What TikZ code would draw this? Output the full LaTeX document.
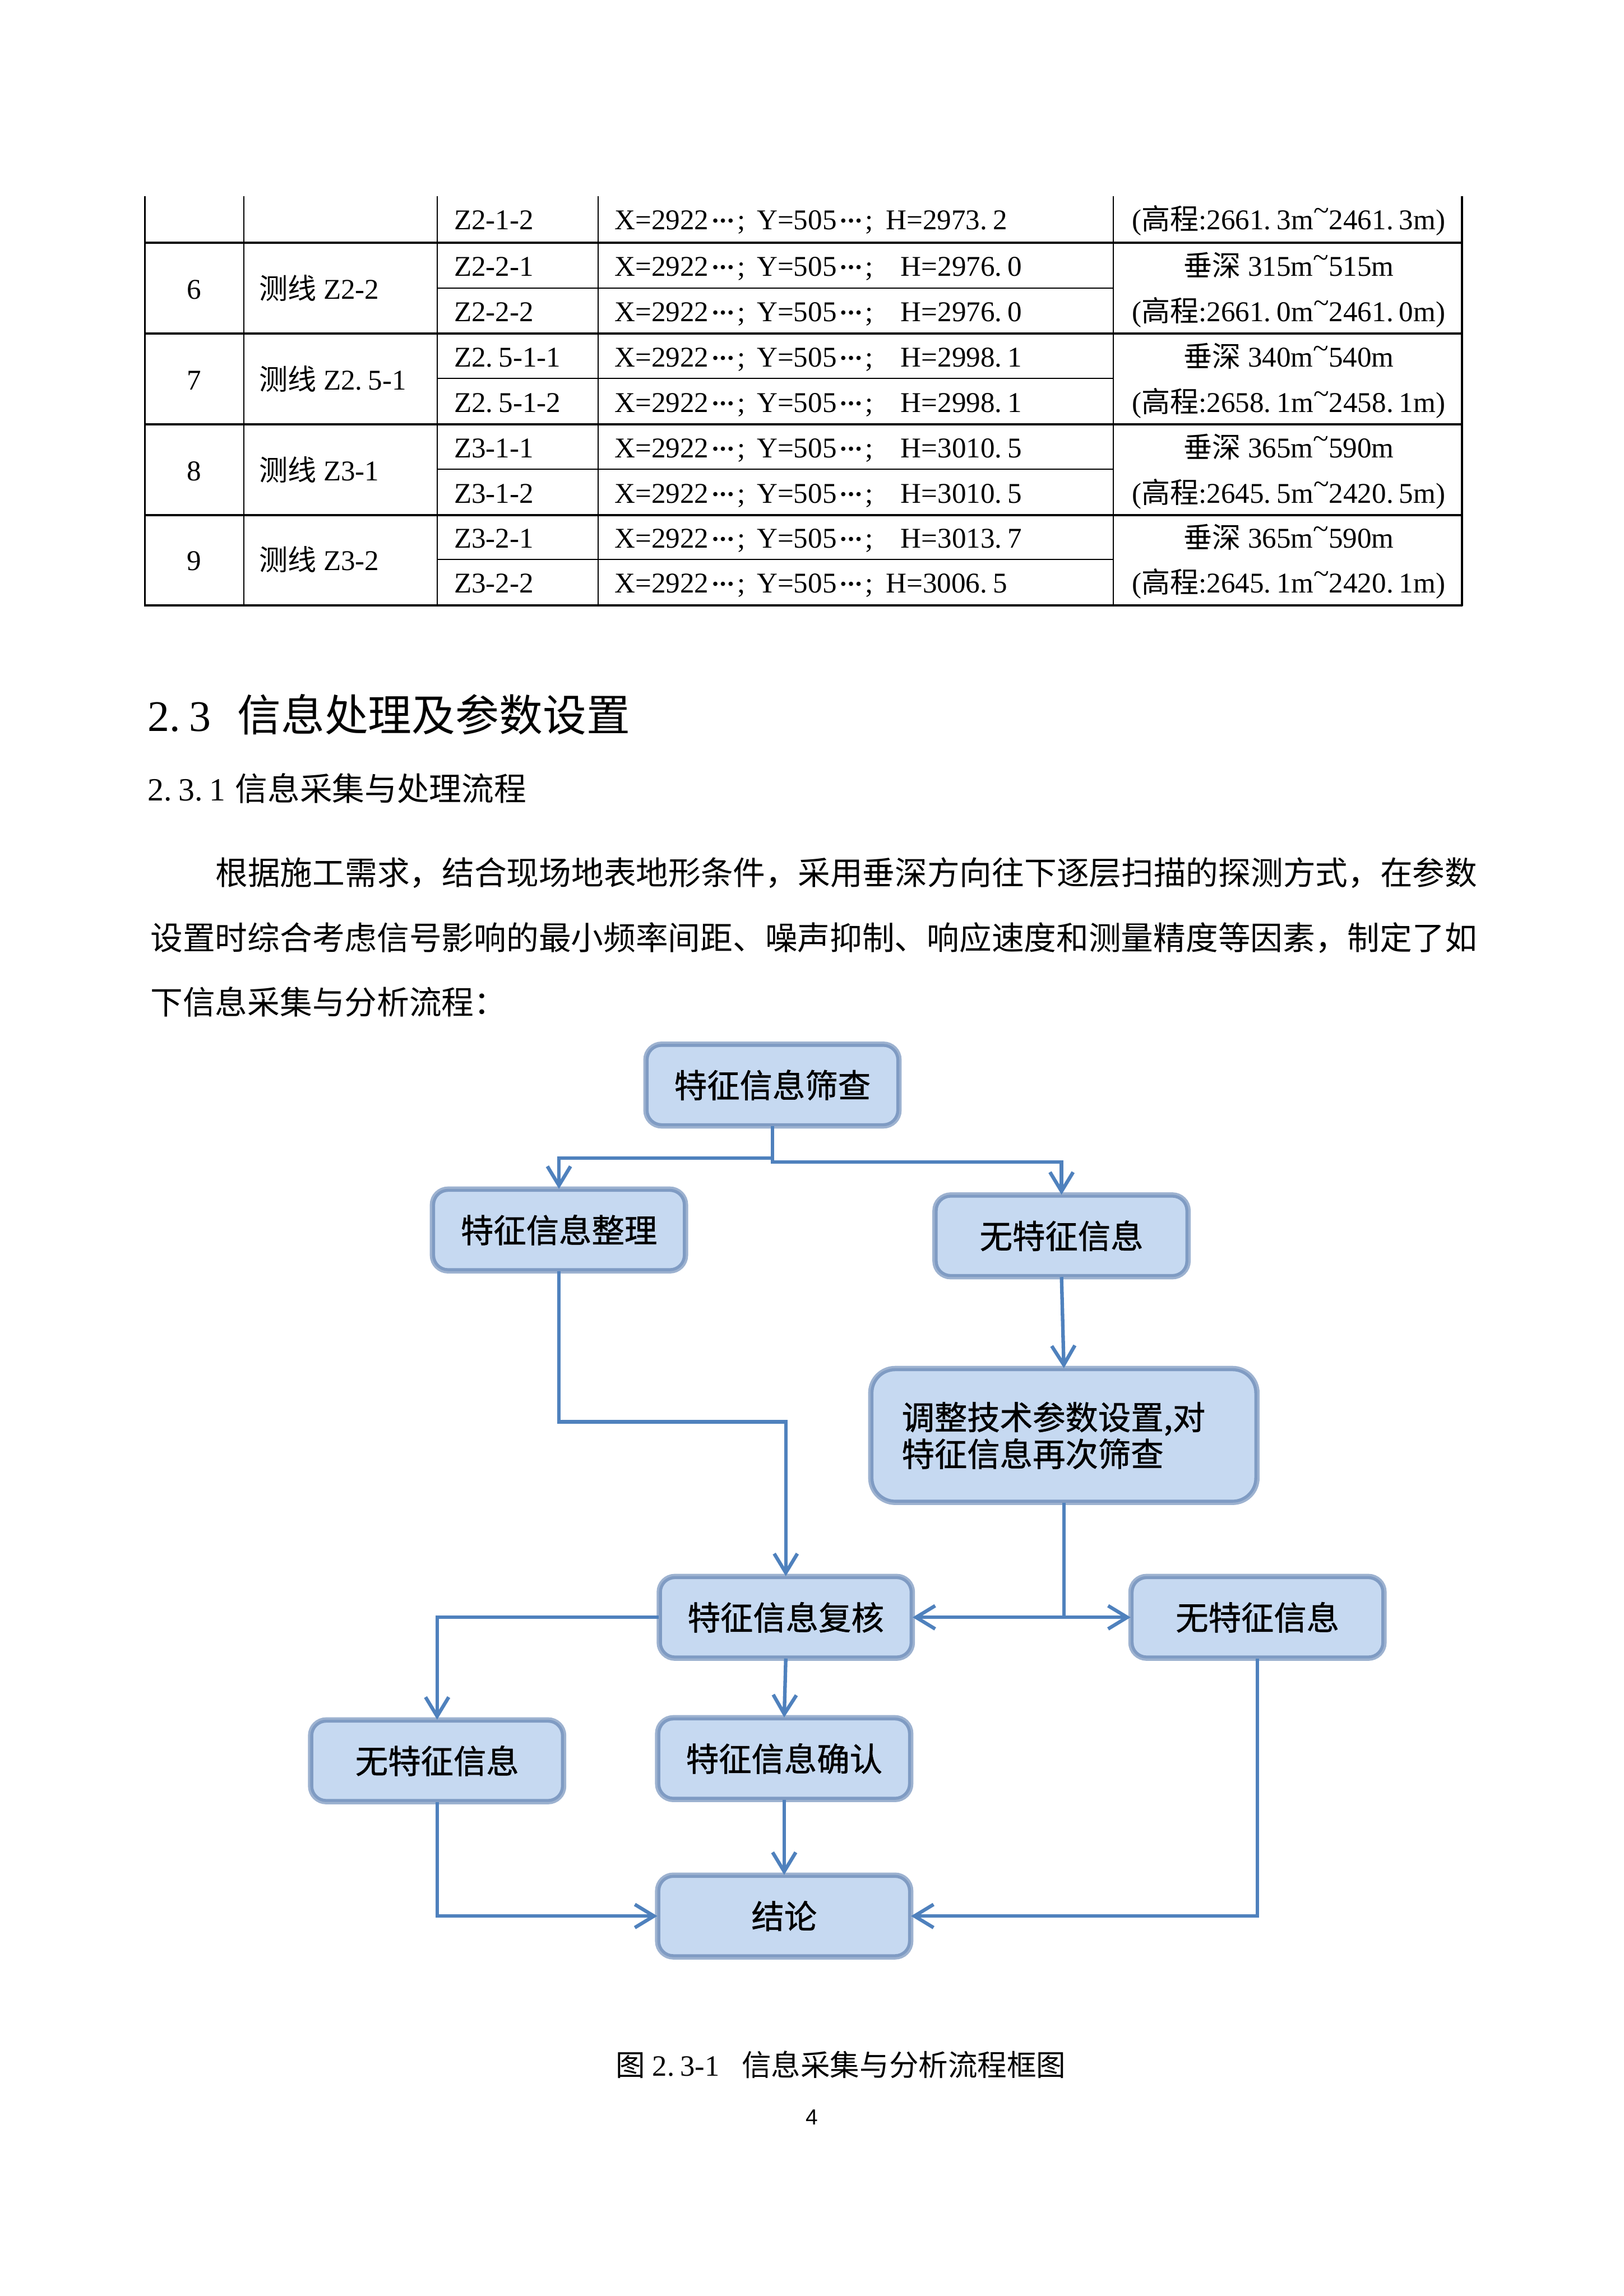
\documentclass[tikz,border=0pt]{standalone}
\usepackage{fontspec}
\setmainfont{Liberation Serif}
\newfontfamily\cjk{Noto Sans CJK SC}
\newfontfamily\cjkbox[FakeBold=1]{Noto Sans CJK SC}
\newfontfamily\pgsans{Liberation Sans}
\usetikzlibrary{arrows.meta}
\definecolor{boxfill}{HTML}{C6D9F1}
\definecolor{boxout}{HTML}{9DB2D0}
\definecolor{boxin}{HTML}{7F9BC3}
\definecolor{lineblue}{HTML}{4F81BD}
\newcommand\pd{.\kern0.2em}
\newcommand\tld{\raisebox{0.33em}{\textasciitilde}}
\newcommand\fs[1]{\fontsize{#1}{#1}\selectfont}
\newcommand\cdts{\makebox[1em][c]{\raisebox{0.1em}{\fontsize{6.5pt}{6.5pt}\selectfont\textbullet\kern0.08em\textbullet\kern0.08em\textbullet}}}
\begin{document}
\begin{tikzpicture}[x=0.5368pt,y=-0.5368pt,
  tvin/.style={line width=0.5pt},
  tthick/.style={line width=0.85pt},
  tthin/.style={line width=0.4pt},
  tcell/.style={anchor=base west,inner sep=0pt,font=\fs{10.5pt}},
  tcen/.style={anchor=base,inner sep=0pt,font=\fs{10.5pt}},
  ptext/.style={anchor=base west,inner sep=0pt,font=\cjk\fs{11.86pt}},
  fbox/.style={rounded corners=5.3pt,fill=boxfill,draw=boxin,line width=1.1pt,
    preaction={draw=boxout,line width=2.8pt},
    minimum width=91.9pt,minimum height=29.1pt,inner sep=0pt,font=\cjkbox\fs{12pt}},
  conn/.style={draw=lineblue,line width=1.3pt},
  arr/.style={-{Straight Barb[length=7pt,width=8.5pt]}}]
\fill[white] (0,0) rectangle (1109,1568);
\useasboundingbox (0,0) rectangle (1109,1568);

% ---------- table lines ----------
\draw[line width=0.7pt] (98.9,134) -- (98.9,413.5);
\foreach \xx in {166.6,298.6,408.4,760.3}{\draw[tvin] (\xx,134) -- (\xx,413.5);}
\draw[line width=0.85pt] (998.3,134) -- (998.3,413.9);
\foreach \yy in {165.8,227.8,289.8,351.8,413.5}{\draw[tthick] (98.5,\yy) -- (998.7,\yy);}
\foreach \yy in {196.8,258.5,320.5,382.2}{\draw[tthin] (298.6,\yy) -- (760.3,\yy);}

% ---------- table text ----------
\foreach \i/\yb/\cc/\hx/\hv in {
  1/156.7/Z2-1-2/604.7/2973\pd 2,
  2/188.7/Z2-2-1/614.7/2976\pd 0,
  3/219.7/Z2-2-2/614.7/2976\pd 0,
  4/250.7/Z2\pd 5-1-1/614.7/2998\pd 1,
  5/281.7/Z2\pd 5-1-2/614.7/2998\pd 1,
  6/312.7/Z3-1-1/614.7/3010\pd 5,
  7/343.7/Z3-1-2/614.7/3010\pd 5,
  8/374.2/Z3-2-1/614.7/3013\pd 7,
  9/404.7/Z3-2-2/604.7/3006\pd 5}{
  \node[tcell] (pt\i) at (309.7,\yb) {\cc};
  \node[tcell] (px\i) at (419.3,\yb) {X=2922\cdts;};
  \node[tcell] (py\i) at (516.5,\yb) {Y=505\cdts;};
  \node[tcell] (ph\i) at (\hx,\yb) {H=\hv};
}
\foreach \n/\yb/\ln in {6/204.2/Z2-2,7/266.2/Z2\pd 5-1,8/328.2/Z3-1,9/389.7/Z3-2}{
  \node[tcen] (no\n) at (132.7,\yb) {\n};
  \node[tcell] (li\n) at (176.5,\yb) {{\cjk 测线} \ln};
}
\node[tcen] (e0) at (880,156.7) {({\cjk 高程}:2661\pd 3m\tld 2461\pd 3m)};
\node[tcen] (d6) at (880,188.7) {{\cjk 垂深} 315m\tld 515m};
\node[tcen] (e6) at (880,219.7) {({\cjk 高程}:2661\pd 0m\tld 2461\pd 0m)};
\node[tcen] (d7) at (880,250.7) {{\cjk 垂深} 340m\tld 540m};
\node[tcen] (e7) at (880,281.7) {({\cjk 高程}:2658\pd 1m\tld 2458\pd 1m)};
\node[tcen] (d8) at (880,312.7) {{\cjk 垂深} 365m\tld 590m};
\node[tcen] (e8) at (880,343.7) {({\cjk 高程}:2645\pd 5m\tld 2420\pd 5m)};
\node[tcen] (d9) at (880,374.2) {{\cjk 垂深} 365m\tld 590m};
\node[tcen] (e9) at (880,404.7) {({\cjk 高程}:2645\pd 1m\tld 2420\pd 1m)};

% ---------- headings and paragraph ----------
\node[anchor=base west,inner sep=0pt,font=\fs{16pt}] (head) at (100.6,499.3)
  {2\pd 3\hspace{0.6em}{\cjk 信息处理及参数设置}};
\node[anchor=base west,inner sep=0pt,font=\fs{11.86pt}] (subhead) at (100.6,547)
  {2\pd 3\pd 1\hspace{0.3em}{\cjk 信息采集与处理流程}};
\node[ptext] (p1) at (146.8,604.4) {根据施工需求，结合现场地表地形条件，采用垂深方向往下逐层扫描的探测方式，在参数};
\node[ptext] (p2) at (102.4,648.6) {设置时综合考虑信号影响的最小频率间距、噪声抑制、响应速度和测量精度等因素，制定了如};
\node[ptext] (p3) at (102.4,692.8) {下信息采集与分析流程：};

% ---------- flowchart ----------
\node[fbox] (b1) at (527.5,741) {特征信息筛查};
\node[fbox] (b2) at (381.7,840) {特征信息整理};
\node[fbox] (b3) at (724.9,844) {无特征信息};
\node[fbox,rounded corners=8.5pt,minimum height=48.2pt,text width=118.9pt,inner xsep=10.9pt,
  align=left,font=\cjkbox\fontsize{12pt}{12.2pt}\selectfont] (b4) at (726.5,980.3)
  {调整技术参数设置,对\\特征信息再次筛查};
\node[fbox] (b5) at (536.6,1104.5) {特征信息复核};
\node[fbox] (b6) at (858.7,1104.5) {无特征信息};
\node[fbox] (b7) at (298.5,1202.5) {无特征信息};
\node[fbox] (b8) at (535.5,1201) {特征信息确认};
\node[fbox] (b9) at (535.5,1308.5) {结论};

\coordinate (s1) at (527.5,791);
\coordinate (s2) at (527.5,793.5);
\coordinate (s3) at (381.7,971);
\draw[conn,arr] (b1.south) -- (s1) -| (b2.north);
\draw[conn,arr] (b1.south) -- (s2) -| (b3.north);
\draw[conn,arr] (b3.south) -- (b4.north);
\draw[conn,arr] (b2.south) -- (s3) -| (b5.north);
\coordinate (s4) at (b4.south |- b5.east);
\draw[conn] (b4.south) -- (s4);
\draw[conn,arr] (s4) -- (b5.east);
\draw[conn,arr] (s4) -- (b6.west);
\draw[conn,arr] (b5.west) -| (b7.north);
\draw[conn,arr] (b5.south) -- (b8.north);
\draw[conn,arr] (b8.south) -- (b9.north);
\draw[conn,arr] (b7.south) |- (b9.west);
\draw[conn,arr] (b6.south) |- (b9.east);

% ---------- caption and page number ----------
\node[anchor=base west,inner sep=0pt,font=\fs{10.8pt}] (cap) at (420,1417.6)
  {{\cjk 图}\hspace{0.25em}2\pd 3-1\hspace{0.75em}{\cjk 信息采集与分析流程框图}};
\node[inner sep=0pt,font=\pgsans\fs{8pt}] (pg) at (554.6,1446) {4};
\end{tikzpicture}
\end{document}
